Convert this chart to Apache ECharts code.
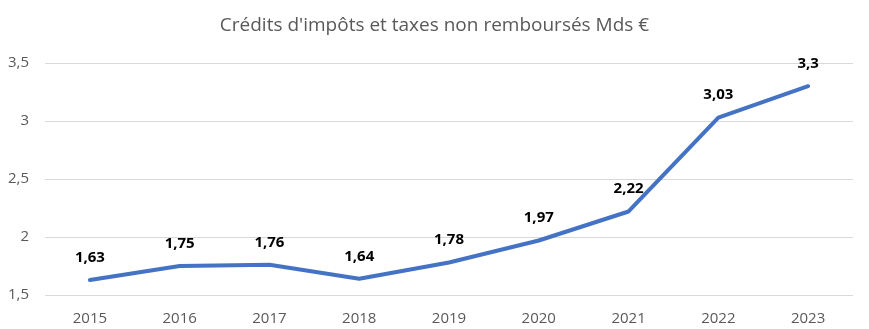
<!DOCTYPE html>
<html><head><meta charset="utf-8">
<script src="https://cdn.jsdelivr.net/npm/echarts@6/dist/echarts.min.js"></script>
<style>html,body{margin:0;padding:0;background:#fff}#c{width:869px;height:329px}</style>
</head><body><div id="c"></div>
<script>
const title = "Crédits d'impôts et taxes non remboursés Mds €";
const categories = ["2015","2016","2017","2018","2019","2020","2021","2022","2023"];
const values = [1.63,1.75,1.76,1.64,1.78,1.97,2.22,3.03,3.3];
const yTicks = [1.5,2,2.5,3,3.5];
const fmt = v => String(v).replace('.', ',');
const font = '"Open Sans", "Liberation Sans", sans-serif';
const chart = echarts.init(document.getElementById('c'));
chart.setOption({
  animation:false,
  title:{text:title,left:'center',top:11,textStyle:{fontFamily:font,fontSize:19,fontWeight:'normal',color:'#595959'}},
  grid:{left:45,right:16,top:63,bottom:34,containLabel:false},
  xAxis:{type:'category',data:categories,boundaryGap:true,
    axisLine:{show:false},axisTick:{show:false},
    axisLabel:{fontFamily:font,fontSize:15,color:'#595959',margin:16}},
  yAxis:{type:'value',min:yTicks[0],max:yTicks[yTicks.length-1],interval:0.5,
    axisLine:{show:false},axisTick:{show:false},
    splitLine:{lineStyle:{color:'#d9d9d9',width:1}},
    axisLabel:{fontFamily:font,fontSize:15,color:'#595959',margin:16,formatter:fmt}},
  series:[{type:'line',data:values,symbol:'circle',symbolSize:0,showSymbol:true,
    lineStyle:{color:'#4472C4',width:4,cap:'round',join:'round'},
    itemStyle:{color:'#4472C4'},
    label:{show:true,position:'top',distance:15,fontFamily:font,fontSize:15,fontWeight:'bold',color:'#000',formatter:p=>fmt(p.value)}}]
});
</script></body></html>
